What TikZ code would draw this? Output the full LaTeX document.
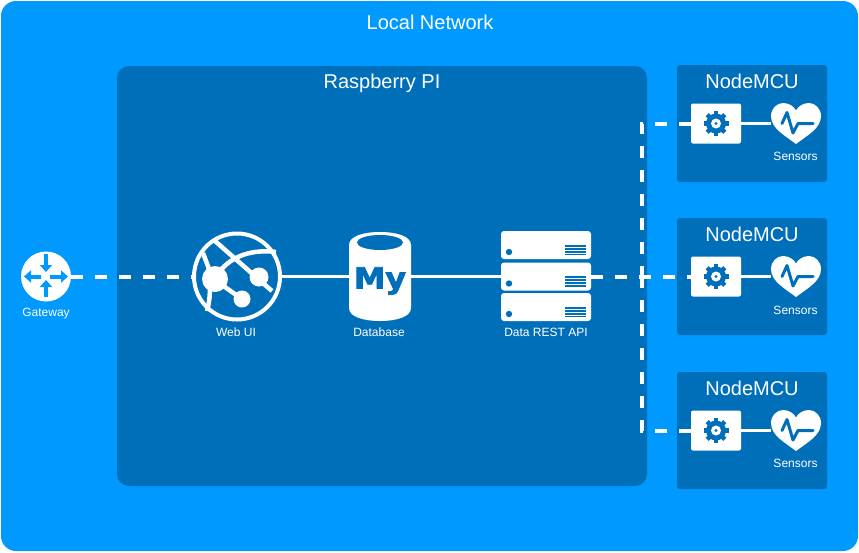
\documentclass[tikz,border=0pt]{standalone}
\usepackage{fontspec}
\setmainfont{Liberation Sans}
\newfontfamily\myfont[BoldFeatures={FakeBold=2.5}]{DejaVu Sans}
\usetikzlibrary{arrows.meta}
\definecolor{lanblue}{HTML}{0099FF}
\definecolor{piblue}{HTML}{006FBA}
\tikzstyle{lan} = [rectangle, minimum width=857pt, minimum height=550pt, rounded corners=15pt, fill=lanblue]
\tikzstyle{board} = [rectangle, minimum width=530pt, minimum height=420pt, rounded corners=12pt, fill=piblue]
\tikzstyle{mcu} = [rectangle, minimum width=150pt, minimum height=117pt, rounded corners=3pt, fill=piblue]
\tikzstyle{chip} = [rectangle, minimum width=50pt, minimum height=40pt, rounded corners=2pt, fill=white]
\tikzstyle{server} = [rectangle, minimum width=90pt, minimum height=28pt, rounded corners=3pt, fill=white]
\tikzstyle{title} = [text=white, font=\fontsize{20}{24}\selectfont]
\tikzstyle{small} = [text=white, font=\fontsize{12}{14}\selectfont]
\tikzstyle{iconbox} = [rectangle, inner sep=0pt]
\tikzstyle{link} = [draw=white, line width=3.5pt]
\tikzstyle{dashlink} = [draw=white, line width=4pt, dash pattern=on 12pt off 12pt]
\tikzstyle{gatearrow} = [draw=lanblue, line width=4pt, -{Triangle[width=12pt,length=7pt]}]
\tikzstyle{webline} = [draw=white, line width=4.5pt]
\tikzset{
  gearicon/.pic={
    \fill[piblue] (0,0) circle (10);
    \draw[piblue, line width=4.5pt] (-12.5,0) -- (12.5,0);
    \draw[piblue, line width=4.5pt] (0,-12.5) -- (0,12.5);
    \draw[piblue, line width=4.5pt] (-8.8,-8.8) -- (8.8,8.8);
    \draw[piblue, line width=4.5pt] (-8.8,8.8) -- (8.8,-8.8);
    \fill[white] (0,0) circle (5);
    \fill[piblue] (0,0) circle (1.7);
  },
  hearticon/.pic={
    \fill[white] (0,20.5) .. controls (-11,12) and (-25,5) .. (-25,-7.5) .. controls (-25,-15) and (-19,-20.5) .. (-13,-20.5) .. controls (-7,-20.5) and (-2,-17) .. (0,-13) .. controls (2,-17) and (7,-20.5) .. (13,-20.5) .. controls (19,-20.5) and (25,-15) .. (25,-7.5) .. controls (25,5) and (11,12) .. (0,20.5) -- cycle;
    \draw[piblue, line width=3pt, line join=round, line cap=round] (-14,0) -- (-9,-11) -- (-3,9.5) -- (2,0) -- (17,0);
  },
  servericon/.pic={
    \fill[piblue] (-37,7) circle (3.2);
    \draw[piblue, line width=1.7pt] (19,0.7) -- (40,0.7);
    \draw[piblue, line width=1.7pt] (19,3.7) -- (40,3.7);
    \draw[piblue, line width=1.7pt] (19,6.7) -- (40,6.7);
    \draw[piblue, line width=1.7pt] (19,9.6) -- (40,9.6);
  }
}
\begin{document}
\begin{tikzpicture}[x=1pt, y=-1pt, node distance=0cm]
\useasboundingbox (0,0) rectangle (859,552);
\node (lan) [lan] at (429.5,276) {};
\node (lantitle) [title] at (430,22) {Local Network};
\node (pi) [board] at (382,276) {};
\node (pititle) [title] at (382,83) {Raspberry PI};

\node (mcu1) [mcu] at (752,123.5) {};
\node (mcu2) [mcu] at (752,276.5) {};
\node (mcu3) [mcu] at (752,430.5) {};
\node (mcutitle1) [title, below of=mcu1, yshift=42.5pt] {NodeMCU};
\node (mcutitle2) [title, below of=mcu2, yshift=42.5pt] {NodeMCU};
\node (mcutitle3) [title, below of=mcu3, yshift=42.5pt] {NodeMCU};
\node (chip1) [chip] at (716,123.5) {};
\node (chip2) [chip] at (716,276.5) {};
\node (chip3) [chip] at (716,430.5) {};
\node (sens1) [iconbox, minimum width=50pt, minimum height=41pt] at (796,123.5) {};
\node (sens2) [iconbox, minimum width=50pt, minimum height=41pt] at (796,276.5) {};
\node (sens3) [iconbox, minimum width=50pt, minimum height=41pt] at (796,430.5) {};
\node (senslabel1) [small, below of=sens1, xshift=-0.5pt, yshift=-32.5pt] {Sensors};
\node (senslabel2) [small, below of=sens2, xshift=-0.5pt, yshift=-33.5pt] {Sensors};
\node (senslabel3) [small, below of=sens3, xshift=-0.5pt, yshift=-32.5pt] {Sensors};

\node (gw) [circle, fill=white, minimum size=50pt, inner sep=0pt] at (46,276.5) {};
\node (gwlabel) [small, below of=gw, yshift=-37.5pt] {Gateway};
\node (web) [circle, draw=white, line width=4pt, minimum size=86pt, inner sep=0pt] at (237,276.5) {};
\node (weblabel) [small, below of=web, xshift=-1pt, yshift=-55.5pt] {Web UI};
\node (db) [iconbox, minimum width=62pt, minimum height=89pt] at (380,276.5) {};
\node (dblabel) [small, below of=db, xshift=-1pt, yshift=-55.5pt] {Database};
\node (api1) [server] at (546,245) {};
\node (api2) [server] at (546,276.5) {};
\node (api3) [server] at (546,307) {};
\node (apilabel) [small, below of=api2, yshift=-55.5pt] {Data REST API};
\coordinate (bus) at (641.5,276.5);

\draw[dashlink] (gw.east) -- (web.west);
\draw[link] (web.east) -- (db.west);
\draw[link] (db.east) -- (api2.west);
\draw[dashlink] (api2.east) -- (chip2.west);
\draw[dashlink] (chip1.west) -| (bus);
\draw[dashlink] (chip3.west) -| (bus);
\draw[link] (chip1) -- (sens1);
\draw[link] (chip2) -- (sens2);
\draw[link] (chip3) -- (sens3);

\fill[white] (349,245) .. controls (349,236) and (364,232) .. (380,232) .. controls (396,232) and (411,236) .. (411,245) -- (411,308) .. controls (411,317) and (396,321) .. (380,321) .. controls (364,321) and (349,317) .. (349,308) -- cycle;
\fill[piblue] (380,242.5) ellipse (23 and 7.5);
\node (mylogo) [text=piblue, font=\myfont\bfseries\fontsize{29}{30}\selectfont] at (380,281) {\scalebox{1.09}[1]{My}};

\fill[white] (215,279) circle (13);
\fill[white] (259,277) circle (9.5);
\fill[white] (242,299) circle (8.5);
\draw[webline] (215,241) -- (272,291);
\draw[webline] (220,271) .. controls (232,256) and (252,249) .. (276,252);
\draw[webline] (222,285) -- (242,299);
\draw[webline] (203,253) .. controls (206,261) and (208,266) .. (210,272);
\draw[webline] (210,286) .. controls (210,296) and (209,304) .. (207,311);

\draw[gatearrow] (46,254) -- (46,272);
\draw[gatearrow] (46,297) -- (46,280);
\draw[gatearrow] (41,276.5) -- (24,276.5);
\draw[gatearrow] (50,276.5) -- (68,276.5);

\pic at (api1) {servericon};
\pic at (api2) {servericon};
\pic at (api3) {servericon};
\pic at (chip1) {gearicon};
\pic at (chip2) {gearicon};
\pic at (chip3) {gearicon};
\pic at (sens1) {hearticon};
\pic at (sens2) {hearticon};
\pic at (sens3) {hearticon};
\end{tikzpicture}
\end{document}
